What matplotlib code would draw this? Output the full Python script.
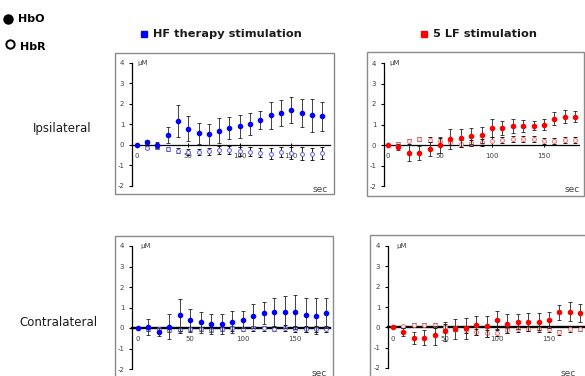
import matplotlib
matplotlib.use("Agg")
import matplotlib.pyplot as plt
from matplotlib.patches import Rectangle
from matplotlib.lines import Line2D

W, H = 585, 376

t = [0, 10, 20, 30, 40, 50, 60, 70, 80, 90, 100, 110, 120, 130, 140, 150, 160, 170, 180]
yticks = [-2, -1, 0, 1, 2, 3, 4]
xticks = [0, 50, 100, 150]

hf_ipsi_hbo = [0, 0.15, 0.0, 0.48, 1.18, 0.79, 0.55, 0.50, 0.68, 0.81, 0.89, 1.00, 1.21, 1.44, 1.54, 1.70, 1.54, 1.44, 1.38]
hf_ipsi_hbo_err = [0, 0.10, 0.15, 0.40, 0.78, 0.60, 0.53, 0.50, 0.60, 0.53, 0.58, 0.53, 0.44, 0.65, 0.65, 0.65, 0.68, 0.80, 0.72]
hf_ipsi_hbr = [0, -0.15, -0.12, -0.20, -0.30, -0.37, -0.35, -0.33, -0.26, -0.26, -0.33, -0.35, -0.40, -0.43, -0.36, -0.40, -0.43, -0.47, -0.40]
hf_ipsi_hbr_err = [0, 0.08, 0.10, 0.10, 0.12, 0.15, 0.15, 0.18, 0.18, 0.20, 0.20, 0.22, 0.22, 0.25, 0.25, 0.28, 0.30, 0.30, 0.28]

lf_ipsi_hbo = [0, -0.08, -0.38, -0.38, -0.20, 0.0, 0.29, 0.34, 0.46, 0.50, 0.82, 0.82, 0.93, 0.93, 0.93, 1.00, 1.29, 1.39, 1.39]
lf_ipsi_hbo_err = [0, 0.15, 0.40, 0.35, 0.35, 0.38, 0.48, 0.42, 0.39, 0.40, 0.45, 0.35, 0.35, 0.30, 0.22, 0.26, 0.30, 0.30, 0.28]
lf_ipsi_hbr = [0, 0.05, 0.18, 0.28, 0.26, 0.20, 0.15, 0.07, 0.08, 0.13, 0.20, 0.25, 0.28, 0.28, 0.28, 0.20, 0.20, 0.25, 0.25]
lf_ipsi_hbr_err = [0, 0.08, 0.12, 0.10, 0.12, 0.15, 0.15, 0.15, 0.15, 0.18, 0.18, 0.15, 0.15, 0.15, 0.15, 0.15, 0.15, 0.15, 0.15]

hf_contra_hbo = [0, 0.05, -0.20, 0.06, 0.62, 0.37, 0.27, 0.20, 0.20, 0.30, 0.40, 0.57, 0.73, 0.76, 0.78, 0.78, 0.63, 0.60, 0.73]
hf_contra_hbo_err = [0, 0.40, 0.20, 0.60, 0.78, 0.58, 0.49, 0.50, 0.50, 0.53, 0.42, 0.58, 0.55, 0.70, 0.80, 0.81, 0.84, 0.87, 0.73]
hf_contra_hbr = [0, -0.05, -0.05, -0.10, -0.10, -0.05, -0.05, -0.08, -0.05, -0.02, -0.05, -0.02, -0.02, -0.03, 0.0, -0.05, -0.05, -0.05, -0.05]
hf_contra_hbr_err = [0, 0.08, 0.10, 0.10, 0.12, 0.10, 0.12, 0.12, 0.12, 0.12, 0.12, 0.12, 0.14, 0.14, 0.14, 0.14, 0.14, 0.14, 0.14]

lf_contra_hbo = [0, -0.24, -0.52, -0.50, -0.40, -0.20, -0.08, -0.05, 0.10, 0.05, 0.36, 0.18, 0.28, 0.26, 0.28, 0.36, 0.73, 0.77, 0.72]
lf_contra_hbo_err = [0, 0.20, 0.30, 0.35, 0.45, 0.45, 0.50, 0.50, 0.47, 0.52, 0.46, 0.46, 0.36, 0.44, 0.42, 0.40, 0.36, 0.46, 0.44]
lf_contra_hbr = [0, 0.05, 0.10, 0.10, 0.10, 0.03, -0.05, -0.15, -0.24, -0.30, -0.28, -0.15, -0.10, -0.08, -0.10, -0.10, -0.24, -0.10, -0.08]
lf_contra_hbr_err = [0, 0.08, 0.10, 0.10, 0.12, 0.12, 0.12, 0.15, 0.15, 0.18, 0.15, 0.12, 0.12, 0.12, 0.12, 0.12, 0.12, 0.12, 0.12]

fig = plt.figure(figsize=(W / 100, H / 100), dpi=100)
fig.patch.set_facecolor("white")


def fx(px):
    return px / W


def fy(py):
    return 1 - py / H


def panel(frame, yaxis_px, x0_px, scale, xmax, ytop, ybot, hbo, hbo_err, hbr, hbr_err,
          color, hbr_color, axis_lw, mu_pos, sec_pos):
    fl, ft, fr, fb = frame
    fig.patches.append(Rectangle((fx(fl), fy(fb)), fx(fr) - fx(fl), fy(ft) - fy(fb),
                                 transform=fig.transFigure, fill=False,
                                 edgecolor="#8a8a8a", linewidth=1.0, zorder=0))
    xmin = (yaxis_px - x0_px) / scale
    right_px = x0_px + xmax * scale
    ax = fig.add_axes([fx(yaxis_px), fy(ybot), fx(right_px) - fx(yaxis_px), fy(ytop) - fy(ybot)])
    ax.set_xlim(xmin, xmax)
    ax.set_ylim(-2, 4)
    ax.patch.set_alpha(0)
    for s in ["top", "right"]:
        ax.spines[s].set_visible(False)
    ax.spines["left"].set_linewidth(0.9)
    ax.spines["left"].set_color("black")
    ax.spines["bottom"].set_position(("data", 0))
    ax.spines["bottom"].set_linewidth(axis_lw)
    ax.spines["bottom"].set_color("black")
    ax.spines["bottom"].set_zorder(1)
    ax.set_yticks(yticks)
    ax.set_yticklabels([str(v) for v in yticks])
    ax.set_xticks(xticks)
    ax.set_xticklabels([str(v) for v in xticks])
    ax.tick_params(axis="y", direction="out", length=2, width=0.8, labelsize=5,
                   labelcolor="#404040", pad=3.5)
    ax.tick_params(axis="x", direction="inout", length=3, width=0.7, labelsize=5,
                   labelcolor="#404040", pad=4.5)
    ax.errorbar(t, hbr, yerr=hbr_err, fmt="none", ecolor="black", elinewidth=0.6,
                capsize=1.4, capthick=0.6, zorder=2, clip_on=False)
    ax.plot(t, hbr, "o", ms=2.8, mfc="white", mec=hbr_color, mew=0.7, zorder=3, clip_on=False)
    ax.errorbar(t, hbo, yerr=hbo_err, fmt="none", ecolor="#222222", elinewidth=0.6,
                capsize=1.4, capthick=0.6, zorder=4, clip_on=False)
    ax.plot(t, hbo, "o", ms=3.0, color=color, mec=color, zorder=5, clip_on=False)
    fig.text(fx(mu_pos[0]), fy(mu_pos[1]), "µM", fontsize=5, color="#404040",
             ha="left", va="center")
    fig.text(fx(sec_pos[0]), fy(sec_pos[1]), "sec", fontsize=6.5, color="#404040",
             ha="right", va="center")
    return ax


panel((115, 53, 334, 194), 132, 136.7, 1.03, 188, 62.7, 185.7,
      hf_ipsi_hbo, hf_ipsi_hbo_err, hf_ipsi_hbr, hf_ipsi_hbr_err,
      "#0000ff", "#6060ff", 0.9, (137, 63), (328, 189))
panel((367, 52, 584, 196), 384, 388, 1.04, 184, 63, 186,
      lf_ipsi_hbo, lf_ipsi_hbo_err, lf_ipsi_hbr, lf_ipsi_hbr_err,
      "#ff0000", "#ff6a6a", 0.9, (389, 63), (580, 190))
panel((115, 236, 333, 400), 132, 138, 1.047, 183, 246, 369,
      hf_contra_hbo, hf_contra_hbo_err, hf_contra_hbr, hf_contra_hbr_err,
      "#0000ff", "#6060ff", 1.7, (140, 246), (327, 373))
panel((370, 235, 600, 400), 388, 393, 1.04, 190, 246, 368,
      lf_contra_hbo, lf_contra_hbo_err, lf_contra_hbr, lf_contra_hbr_err,
      "#ff0000", "#ff6a6a", 1.7, (396, 246), (576, 373))

# column titles
fig.add_artist(Line2D([fx(144)], [fy(34)], marker="s", ms=4, color="#0000ff", linestyle="none"))
fig.text(fx(153), fy(34), "HF therapy stimulation", fontsize=8.2, fontweight="bold",
         ha="left", va="center", color="#1a1a1a")
fig.add_artist(Line2D([fx(424)], [fy(34)], marker="s", ms=4, color="#ff0000", linestyle="none"))
fig.text(fx(433), fy(34), "5 LF stimulation", fontsize=8.2, fontweight="bold",
         ha="left", va="center", color="#1a1a1a")

# row labels
fig.text(fx(62), fy(128), "Ipsilateral", fontsize=8.5, ha="center", va="center", color="#1a1a1a")
fig.text(fx(58), fy(322), "Contralateral", fontsize=8.5, ha="center", va="center", color="#1a1a1a")

# legend
fig.add_artist(Line2D([fx(8)], [fy(19)], marker="o", ms=6.5, color="black", linestyle="none"))
fig.text(fx(18), fy(19), "HbO", fontsize=8, fontweight="bold", ha="left", va="center")
fig.add_artist(Line2D([fx(10)], [fy(44)], marker="o", ms=6, mfc="white", mec="black",
                      mew=1.4, linestyle="none"))
fig.text(fx(20), fy(47), "HbR", fontsize=8, fontweight="bold", ha="left", va="center")

fig.savefig("out.png", dpi=100)
